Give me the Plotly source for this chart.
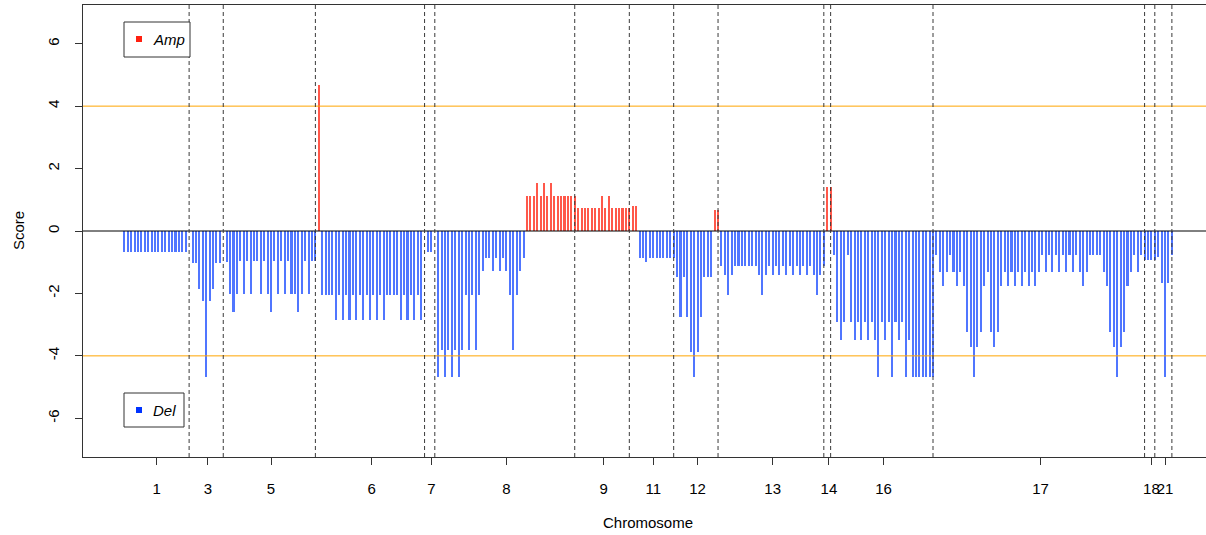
import plotly.graph_objects as go

# ---------------- data ----------------
chrom_names = ["1", "3", "5", "6", "7", "8", "9", "11", "12", "13", "14", "16", "17", "18", "21"]

chr1 = [-0.68, -0.68, -0.68, -0.68, -0.68, -0.68, -0.68, -0.68, -0.68, -0.68,
        -0.68, -0.68, -0.68, -0.68, -0.68, -0.68, -0.68, -0.68, -0.68, 0]
chr3 = [-1.03, -1.03, -1.86, -2.23, -4.69, -2.23, -1.86, -1.03, -1.03, 0]
chr5 = [-1.0, -2.03, -2.6, -2.03, -0.96, -2.03, -0.96, -2.03, -0.96, -0.96,
        -2.03, -0.96, -2.03, -2.6, -0.96, -2.03, -0.96, -2.03, -0.96, -2.03,
        -2.03, -2.6, -2.03, -0.96, -2.03, -0.96, -0.96]
chr6 = [4.69, -2.05, -2.05, -2.05, -2.05, -2.86, -2.05, -2.86, -2.05, -2.86,
        -2.05, -2.86, -2.05, -2.86, -2.05, -2.86, -2.05, -2.86, -2.05, -2.86,
        -2.05, -2.05, -2.05, -2.05, -2.86, -2.05, -2.86, -2.05, -2.86, -2.05,
        -2.86, 0]
chr7 = [-0.66, -0.66, 0]
chr8 = [-4.69, -3.8, -4.69, -3.8, -4.69, -3.8, -4.69, -3.8, -2.05, -3.8,
        -2.05, -3.8, -2.05, -1.28, -0.88, -0.88, -1.28, -0.88, -1.28, -0.88,
        -1.28, -2.05, -3.8, -2.05, -1.28, -0.88,
        1.13, 1.13, 1.13, 1.54, 1.13, 1.54, 1.13, 1.54, 1.13, 1.13,
        1.13, 1.13, 1.13, 1.13, 1.13]
chr9 = [0.73, 0.73, 0.73, 0.73, 0.73, 0.73, 0.73, 1.11, 0.73, 1.11,
        0.73, 0.73, 0.73, 0.73, 0.73, 0.73]
chr11 = [0.79, 0.79, -0.85, -0.85, -1.0, -0.85, -0.85, -0.85, -0.85, -0.85,
         -0.85, -0.85, -0.85]
chr12 = [-1.47, -2.77, -1.47, -2.77, -3.87, -4.69, -3.87, -2.77, -1.47, -1.47,
         -1.47, 0.68, 0.68]
chr13 = [-1.13, -1.40, -2.06, -1.40, -1.13, -1.13, -1.13, -1.13, -1.13, -1.13,
         -1.13, -1.40, -2.06, -1.40, -1.13, -1.40, -1.13, -1.40, -1.13, -1.40,
         -1.13, -1.40, -1.13, -1.40, -1.13, -1.40, -1.13, -1.40, -2.06, -1.40,
         -1.13]
chr14 = [1.41, 1.41]
chr16 = [-0.77, -2.91, -3.49, -2.91, -0.77, -2.91, -3.49, -2.91, -3.49, -2.91,
         -3.49, -2.91, -3.49, -4.69, -2.91, -3.49, -2.91, -4.69, -2.91, -3.49,
         -2.91, -4.69, -3.49, -4.69, -4.69, -4.69, -4.69, -4.69, -4.69, -4.69]
chr17 = [-0.77, -1.30, -1.76, -1.30, -0.77, -1.30, -1.76, -1.30, -1.76, -3.23,
         -3.72, -4.69, -3.72, -3.23, -1.76, -1.30, -3.23, -3.72, -3.23,
         -1.76, -1.30, -1.76, -1.30, -1.76, -1.30, -1.76, -1.30, -1.76, -1.30,
         -1.76, -1.30,
         -0.77, -1.30, -0.77, -1.30, -0.77, -1.30, -0.77, -1.30, -0.77, -1.30,
         -0.77, -1.30,
         -1.76, -1.30, -0.77, -0.77, -0.77, -0.77, -1.30, -1.76, -3.23, -3.72,
         -4.69, -3.72, -3.23, -1.76, -1.30, -0.77, -1.30, -0.77,
         -0.92]
chr18 = [-0.92, -0.92, -0.92]
chr21 = [-0.84, -1.65, -4.69, -1.65, -0.76]

chrom_scores = [chr1, chr3, chr5, chr6, chr7, chr8, chr9, chr11, chr12,
                chr13, chr14, chr16, chr17, chr18, chr21]

amp_threshold = 4
del_threshold = -4
y_ticks = [-6, -4, -2, 0, 2, 4, 6]

# ---------------- build positions ----------------
pos, score, chrom_end, chrom_mid = [], [], [], []
i = 0
for vals in chrom_scores:
    start = i
    for v in vals:
        pos.append(i)
        score.append(v)
        i += 1
    chrom_end.append(i - 1)
    chrom_mid.append((start + i - 1) / 2)

amp_x = [p for p, s in zip(pos, score) if s > 0]
amp_y = [s for s in score if s > 0]
del_x = [p for p, s in zip(pos, score) if s < 0]
del_y = [s for s in score if s < 0]

W, H = 1206, 535
ML, MR, MT, MB = 83, 0, 5, 78
PW, PH = W - ML - MR, H - MT - MB

def px(xp):
    return (xp - ML) / PW

def py(yp):
    return (H - MB - yp) / PH

FONT = "Liberation Sans, Arial, Helvetica, sans-serif"
BLUE = "rgb(80,118,255)"
RED = "rgb(255,88,74)"

fig = go.Figure()
fig.add_trace(go.Bar(x=del_x, y=del_y, width=0.6, marker=dict(color=BLUE, line_width=0),
                     showlegend=False, hoverinfo="x+y"))
fig.add_trace(go.Bar(x=amp_x, y=amp_y, width=0.6, marker=dict(color=RED, line_width=0),
                     showlegend=False, hoverinfo="x+y"))

shapes = []
# thresholds
for t in (amp_threshold, del_threshold):
    shapes.append(dict(type="line", xref="paper", yref="y", x0=0, x1=1, y0=t, y1=t,
                       line=dict(color="#FFA500", width=1)))
# zero line
shapes.append(dict(type="line", xref="paper", yref="y", x0=0, x1=1, y0=0, y1=0,
                   line=dict(color="black", width=1)))
# chromosome boundaries
for e in chrom_end:
    shapes.append(dict(type="line", xref="x", yref="paper", x0=e, x1=e, y0=0, y1=1,
                       line=dict(color="#3a3a3a", width=1, dash="4px,3px")))

# legend boxes
shapes.append(dict(type="rect", xref="paper", yref="paper",
                   x0=px(124), x1=px(190), y0=py(57), y1=py(22),
                   line=dict(color="#333333", width=1), fillcolor="white"))
shapes.append(dict(type="rect", xref="paper", yref="paper",
                   x0=px(136), x1=px(142), y0=py(42), y1=py(36),
                   line=dict(width=0), fillcolor="#FF2010"))
shapes.append(dict(type="rect", xref="paper", yref="paper",
                   x0=px(124), x1=px(184), y0=py(427), y1=py(393),
                   line=dict(color="#333333", width=1), fillcolor="white"))
shapes.append(dict(type="rect", xref="paper", yref="paper",
                   x0=px(136), x1=px(142), y0=py(413), y1=py(407),
                   line=dict(width=0), fillcolor="#0033FF"))

annotations = [
    dict(text="<i>Amp</i>", xref="paper", yref="paper", x=px(151), y=py(39),
         xanchor="left", yanchor="middle", showarrow=False,
         font=dict(family=FONT, size=15, color="black")),
    dict(text="<i>Del</i>", xref="paper", yref="paper", x=px(151), y=py(410),
         xanchor="left", yanchor="middle", showarrow=False,
         font=dict(family=FONT, size=15, color="black")),
    dict(text="Score", xref="paper", yref="paper", x=px(18), y=0.5, textangle=-90,
         xanchor="center", yanchor="middle", showarrow=False,
         font=dict(family=FONT, size=15, color="black")),
    dict(text="Chromosome", xref="paper", yref="paper", x=px(648), y=py(522),
         xanchor="center", yanchor="middle", showarrow=False,
         font=dict(family=FONT, size=15, color="black")),
]

fig.update_layout(
    width=W, height=H,
    margin=dict(l=ML, r=MR, t=MT, b=MB),
    paper_bgcolor="white", plot_bgcolor="white",
    barmode="overlay", bargap=0,
    shapes=shapes, annotations=annotations,
    showlegend=False,
    xaxis=dict(range=[-12.1, 317.0], tickmode="array", tickvals=chrom_mid,
               ticktext=chrom_names, tickangle=0, ticks="outside", ticklen=7,
               tickcolor="#333333", showline=True, linecolor="#333333", linewidth=1,
               mirror=True, showgrid=False, zeroline=False, ticklabelstandoff=11,
               tickfont=dict(family=FONT, size=15, color="black")),
    yaxis=dict(range=[-7.24, 7.24], tickmode="array", tickvals=y_ticks,
               ticktext=[str(v) for v in y_ticks], tickangle=-90, ticks="outside",
               ticklen=7, tickcolor="#333333", showline=True, linecolor="#333333",
               linewidth=1, mirror=False, showgrid=False, zeroline=False,
               ticklabelstandoff=10,
               tickfont=dict(family=FONT, size=15, color="black")),
)

fig.write_html("out.html", config={"displayModeBar": False},
               post_script="document.body.style.margin='0';document.body.style.padding='0';")
